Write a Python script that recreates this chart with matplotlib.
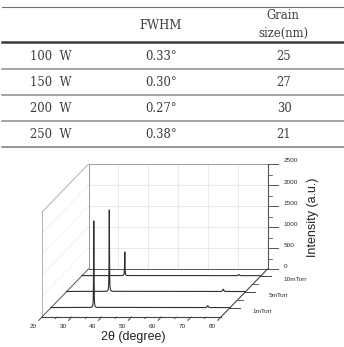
import numpy as np
import matplotlib
matplotlib.use('Agg')
import matplotlib.pyplot as plt

# table values
powers = ['100  W', '150  W', '200  W', '250  W']
fwhm = ['0.33°', '0.30°', '0.27°', '0.38°']
grain = ['25', '27', '30', '21']

# XRD traces (2theta in degree, intensity in a.u.)
two_theta = [20.0, 33.5, 34.0, 34.2, 34.3, 34.4, 34.5, 34.6, 34.8, 35.3,
             71.8, 72.3, 72.6, 72.9, 73.4, 80.0]
int_1m = [8, 12, 40, 150, 700, 2070, 700, 150, 40, 12, 8, 20, 55, 20, 8, 6]
int_5m = [10, 14, 45, 160, 650, 1950, 650, 160, 45, 14, 10, 25, 65, 25, 10, 8]
int_10m = [6, 8, 20, 50, 200, 570, 200, 50, 20, 8, 6, 12, 35, 12, 6, 5]
pressures = ['1mTorr', '5mTorr', '10mTorr']
depth = [1, 2, 3]
traces = [int_1m, int_5m, int_10m]

xticks = [20, 30, 40, 50, 60, 70, 80]
yticks = [0, 500, 1000, 1500, 2000, 2500]

W, H = 344, 347
fig = plt.figure(figsize=(W / 100, H / 100), dpi=100)

# ---- table ----
tab = fig.add_axes([0, 0, 1, 1])
tab.set_xlim(0, W)
tab.set_ylim(H, 0)
tab.axis('off')

serif = 'DejaVu Serif'
tcol = '#3c3c3c'
tab.plot([2, W], [6.5, 6.5], color='#707070', lw=0.8)
tab.plot([2, W], [42, 42], color='#3a3a3a', lw=1.8)
for yl in [69, 95, 121]:
    tab.plot([2, W], [yl, yl], color='#8c8c8c', lw=1.1)
tab.plot([2, W], [147, 147], color='#7a7a7a', lw=1.1)

tab.text(161, 25.5, 'FWHM', ha='center', va='center', family=serif,
         fontsize=8.4, color=tcol)
tab.text(283, 15.5, 'Grain', ha='center', va='center', family=serif,
         fontsize=8.4, color=tcol)
tab.text(283, 33.5, 'size(nm)', ha='center', va='center', family=serif,
         fontsize=8.4, color=tcol)
for i in range(len(powers)):
    yr = 56 + 26 * i
    tab.text(30, yr, powers[i], ha='left', va='center', family=serif,
             fontsize=8.4, color=tcol)
    tab.text(161, yr, fwhm[i], ha='center', va='center', family=serif,
             fontsize=8.4, color=tcol)
    tab.text(284, yr, grain[i], ha='center', va='center', family=serif,
             fontsize=8.4, color=tcol)

# ---- pseudo 3D waterfall ----
x0, x1 = 42, 221      # front plane, pixels
yb, yt = 317, 212
ax = fig.add_axes([x0 / W, 1 - yb / H, (x1 - x0) / W, (yb - yt) / H])
ax.set_xlim(20, 80)
ax.set_ylim(0, 2500)
ax.axis('off')

XPX = (x1 - x0) / 60.0
YPX = (yb - yt) / 2500.0
DX, DY = 46.5, 48.0
ZMIN, ZMAX = 0.43, 3.43


def proj(x, y, f):
    return (np.asarray(x, float) + f * DX / XPX,
            np.asarray(y, float) + f * DY / YPX)


def zf(z):
    return (z - ZMIN) / (ZMAX - ZMIN)


def seg(p, q, **kw):
    ax.plot([p[0], q[0]], [p[1], q[1]], clip_on=False, **kw)


box = dict(color='#9a9a9a', lw=0.7)
grid = dict(color='#e6e6e6', lw=0.6)

# grid on back wall and left wall
for xv in xticks[1:-1]:
    seg(proj(xv, 0, 1), proj(xv, 2500, 1), **grid)
for yv in yticks[1:-1]:
    seg(proj(20, yv, 1), proj(80, yv, 1), **grid)
    seg(proj(20, yv, 0), proj(20, yv, 1), color='#efefef', lw=0.6)

# frame
seg(proj(20, 0, 1), proj(20, 2500, 1), **box)
seg(proj(20, 2500, 1), proj(80, 2500, 1), **box)
seg(proj(20, 0, 0), proj(20, 2500, 0), color='#b0b0b0', lw=0.7)
seg(proj(20, 2500, 0), proj(20, 2500, 1), color='#b0b0b0', lw=0.7)
seg(proj(20, 0, 1), proj(80, 0, 1), color='#555555', lw=0.7)
seg(proj(20, 0, 0), proj(20, 0, 1), color='#555555', lw=0.7)
seg(proj(20, 0, 0), proj(80, 0, 0), color='#444444', lw=0.8)
seg(proj(80, 0, 0), proj(80, 0, 1), color='#444444', lw=0.8)
seg(proj(80, 0, 1), proj(80, 2500, 1), color='#555555', lw=0.8)

# traces
for z, ys in zip(depth, traces):
    px, py = proj(two_theta, ys, zf(z))
    ax.plot(px, py, color='#2e2e2e', lw=0.8, clip_on=False)

tick_font = dict(family='Liberation Sans', fontsize=4.6, color='#2a2a2a')

# x ticks (pointing to the front)
for xv in xticks:
    seg(proj(xv, 0, 0), proj(xv, 0, -0.07), color='#444444', lw=0.7)
    lx, ly = proj(xv, 0, -0.19)
    ax.text(lx, ly, str(xv), ha='center', va='center', **tick_font)
for xv in range(25, 80, 10):
    seg(proj(xv, 0, 0), proj(xv, 0, -0.035), color='#444444', lw=0.6)

# y ticks on the back right axis
for yv in yticks:
    seg(proj(80, yv, 1), proj(80 + 11 / XPX, yv, 1), color='#555555', lw=0.7)
    lx, ly = proj(80 + 16 / XPX, yv + 3 / YPX, 1)
    ax.text(lx, ly, str(yv), ha='left', va='center', **tick_font)
for yv in range(250, 2500, 500):
    seg(proj(80, yv, 1), proj(80 + 5 / XPX, yv, 1), color='#555555', lw=0.6)

# depth ticks
for z, name in zip(depth, pressures):
    seg(proj(80, 0, zf(z)), proj(80 + 10 / XPX, 0, zf(z)), color='#444444', lw=0.7)
    lx, ly = proj(80 + 23 / XPX, -4 / YPX, zf(z))
    ax.text(lx, ly, name, ha='left', va='center', **tick_font)
for z in [1.5, 2.5]:
    seg(proj(80, 0, zf(z)), proj(80 + 5 / XPX, 0, zf(z)), color='#444444', lw=0.6)

fig.text(133 / W, 1 - 337 / H, '2θ (degree)', ha='center', va='center',
         family='Liberation Sans', fontsize=9, color='#222222')
fig.text(313 / W, 1 - 217 / H, 'Intensity (a.u.)', ha='center', va='center',
         rotation=90, family='Liberation Sans', fontsize=9, color='#222222')

fig.savefig('out.png', dpi=100)
